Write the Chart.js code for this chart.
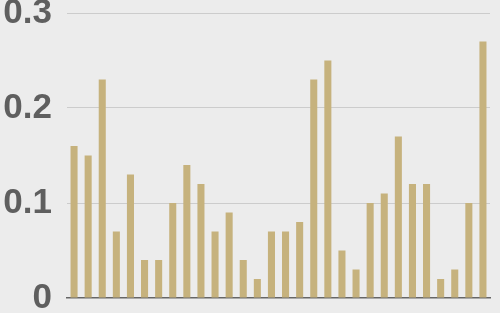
<!DOCTYPE html>
<html>
<head>
<meta charset="utf-8">
<script src="https://cdn.jsdelivr.net/npm/chart.js@4"></script>
<style>
  html, body { margin: 0; padding: 0; background: #ececec; }
  #wrap { width: 500px; height: 313px; }
</style>
</head>
<body>
<div id="wrap"><canvas id="bars"></canvas></div>
<script>
// values
const categories = ['1','2','3','4','5','6','7','8','9','10','11','12','13','14','15',
                    '16','17','18','19','20','21','22','23','24','25','26','27','28','29','30'];
const values = [0.16, 0.15, 0.23, 0.07, 0.13, 0.04, 0.04, 0.10, 0.14, 0.12,
                0.07, 0.09, 0.04, 0.02, 0.07, 0.07, 0.08, 0.23, 0.25, 0.05,
                0.03, 0.10, 0.11, 0.17, 0.12, 0.12, 0.02, 0.03, 0.10, 0.27];
const yTicks = [0, 0.1, 0.2, 0.3];
const yTickLabels = ['0', '0.1', '0.2', '0.3'];

const ctx = document.getElementById('bars');
const chart = new Chart(ctx, {
    type: 'bar',
    data: {
        labels: categories,
        datasets: [{
            data: values,
            backgroundColor: '#c6b27d',
            barPercentage: 0.5,
            categoryPercentage: 1.0
        }]
    },
    options: {
        responsive: true,
        maintainAspectRatio: false,
        animation: false,
        layout: { padding: { top: 13, bottom: 15, right: 10, left: 0 } },
        plugins: {
            legend: { display: false },
            tooltip: { enabled: false }
        },
        scales: {
            x: {
                grid: { display: false },
                ticks: { display: false },
                border: { display: true, color: '#666666', width: 1.5 },
                afterFit: (scale) => {
                    scale.height = 0;
                    scale.paddingLeft = 0;
                    scale.paddingRight = 0;
                }
            },
            y: {
                min: 0,
                max: 0.3,
                afterBuildTicks: (scale) => {
                    scale.ticks = yTicks.map(v => ({ value: v }));
                },
                afterFit: (scale) => {
                    scale.width = 67;
                    scale.paddingTop = 0;
                    scale.paddingBottom = 0;
                },
                grid: {
                    color: (c) => c.tick && c.tick.value === 0 ? 'rgba(0,0,0,0)' : '#cccccc',
                    lineWidth: 1,
                    drawTicks: false
                },
                border: { display: false },
                ticks: {
                    padding: 15,
                    color: '#5f5f5f',
                    font: { family: '"Liberation Sans", Arial, sans-serif', size: 35, weight: 'bold' },
                    callback: (v, i) => yTickLabels[i]
                }
            }
        }
    }
});
</script>
</body>
</html>
